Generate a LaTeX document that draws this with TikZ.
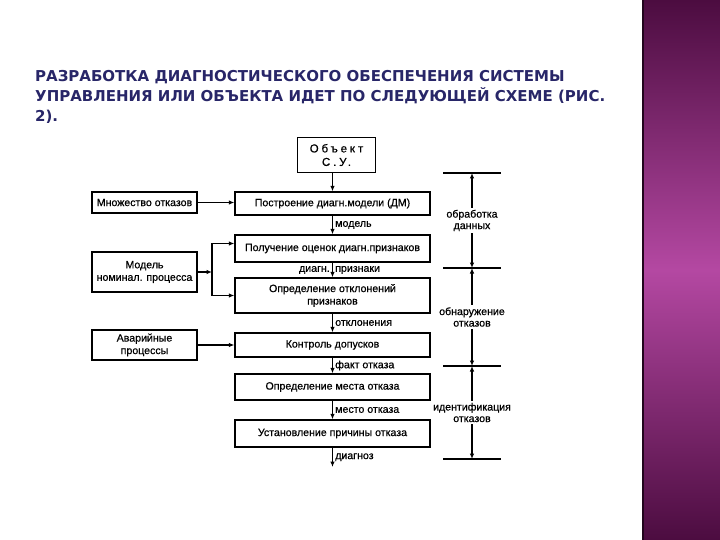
\documentclass[tikz,border=0pt]{standalone}
\usepackage{fontspec}
\setmainfont{Liberation Sans}
\newfontfamily\diagfont[FakeBold=0.6]{Liberation Sans}
\newfontfamily\titlefont{DejaVu Sans}
\usetikzlibrary{arrows.meta}

\definecolor{titleblue}{RGB}{40,38,104}
\definecolor{plumdark}{RGB}{76,12,64}
\definecolor{plumlight}{RGB}{180,72,162}

\tikzset{
  blk/.style={draw,line width=1.2pt,minimum width=195pt,inner sep=1pt,
    align=center,font=\diagfont\fontsize{10.6}{12.5}\selectfont},
  side/.style={blk,minimum width=105pt},
  lbl/.style={font=\diagfont\fontsize{10.6}{11.5}\selectfont,inner sep=2pt},
  flow/.style={-{Latex[length=5.5pt,width=4.5pt]},line width=1.5pt},
  twoway/.style={flow,{Latex[length=5.5pt,width=4.5pt]}-{Latex[length=5.5pt,width=4.5pt]}},
}

\begin{document}
\begin{tikzpicture}[x=1pt,y=-1pt]
  \useasboundingbox (0,0) rectangle (720,540);
  \fill[white] (0,0) rectangle (720,540);
  % purple band on the right
  \shade[top color=plumdark,bottom color=plumdark,middle color=plumlight]
    (642,0) rectangle (720,540);
  \fill[black!55!plumdark] (642,0) rectangle (644,540);

  \node[anchor=north west,align=left,text=titleblue,inner sep=0pt,
    font=\titlefont\bfseries\fontsize{15}{20}\selectfont] (title) at (35,70)
    {РАЗРАБОТКА ДИАГНОСТИЧЕСКОГО ОБЕСПЕЧЕНИЯ СИСТЕМЫ\\
     УПРАВЛЕНИЯ ИЛИ ОБЪЕКТА ИДЕТ ПО СЛЕДУЮЩЕЙ СХЕМЕ (РИС.\\
     2).};

  % main column
  \node[blk,minimum width=78pt,minimum height=35pt,
    font=\diagfont\fontsize{11.5}{13.5}\selectfont] (obj) at (336.5,155)
    {\addfontfeature{LetterSpace=25}Объект\\\addfontfeature{LetterSpace=25}С.У.};
  \node[blk,minimum height=23pt] (build) at (332.5,203.5) {Построение диагн.модели (ДМ)};
  \node[blk,minimum height=27pt] (estim) at (332.5,248.5) {Получение оценок диагн.признаков};
  \node[blk,minimum height=35pt] (devi) at (332.5,295.5) {Определение отклонений\\признаков};
  \node[blk,minimum height=24pt] (ctrl) at (332.5,345) {Контроль допусков};
  \node[blk,minimum height=26pt] (place) at (332.5,387) {Определение места отказа};
  \node[blk,minimum height=27pt] (cause) at (332.5,433.5) {Установление причины отказа};
  \coordinate (diag) at (332.5,467);

  % inputs on the left
  \node[side,minimum height=21pt] (faults) at (144.5,202.5) {Множество отказов};
  \node[side,minimum height=40pt] (nominal) at (144.5,272) {Модель\\номинал. процесса};
  \node[side,minimum height=30pt] (emerg) at (144.5,345) {Аварийные\\процессы};
  \coordinate (fork) at (212,272);

  \draw[flow] (obj.south -| build.north) -- (build.north);
  \draw[flow] (build) -- node[lbl,right] {модель} (estim);
  \draw[flow] (estim) -- node[lbl,left] {диагн.} node[lbl,right] {признаки} (devi);
  \draw[flow] (devi) -- node[lbl,right] {отклонения} (ctrl);
  \draw[flow] (ctrl) -- node[lbl,right] {факт отказа} (place);
  \draw[flow] (place) -- node[lbl,right] {место отказа} (cause);
  \draw[flow] (cause) -- node[lbl,right] {диагноз} (diag);

  \draw[flow] (faults.east) -- (faults.east -| build.west);
  \draw[flow] (nominal) -- (fork);
  \draw[flow] (fork) |- ([yshift=5pt]estim.west);
  \draw[flow] (fork) |- (devi.west);
  \draw[flow] (emerg) -- (ctrl);

  % stages on the right
  \foreach \ty [count=\i] in {173,268,366,459} {
    \coordinate (t\i) at (472,\ty);
    \draw[line width=1.5pt] ([xshift=-29pt]t\i) -- ([xshift=29pt]t\i);
  }
  \draw[twoway] (t1) -- node[lbl,fill=white,align=center] {обработка\\данных} (t2);
  \draw[twoway] (t2) -- node[lbl,fill=white,align=center] {обнаружение\\отказов} (t3);
  \draw[twoway] (t3) -- node[lbl,fill=white,align=center] {идентификация\\отказов} (t4);
\end{tikzpicture}
\end{document}
